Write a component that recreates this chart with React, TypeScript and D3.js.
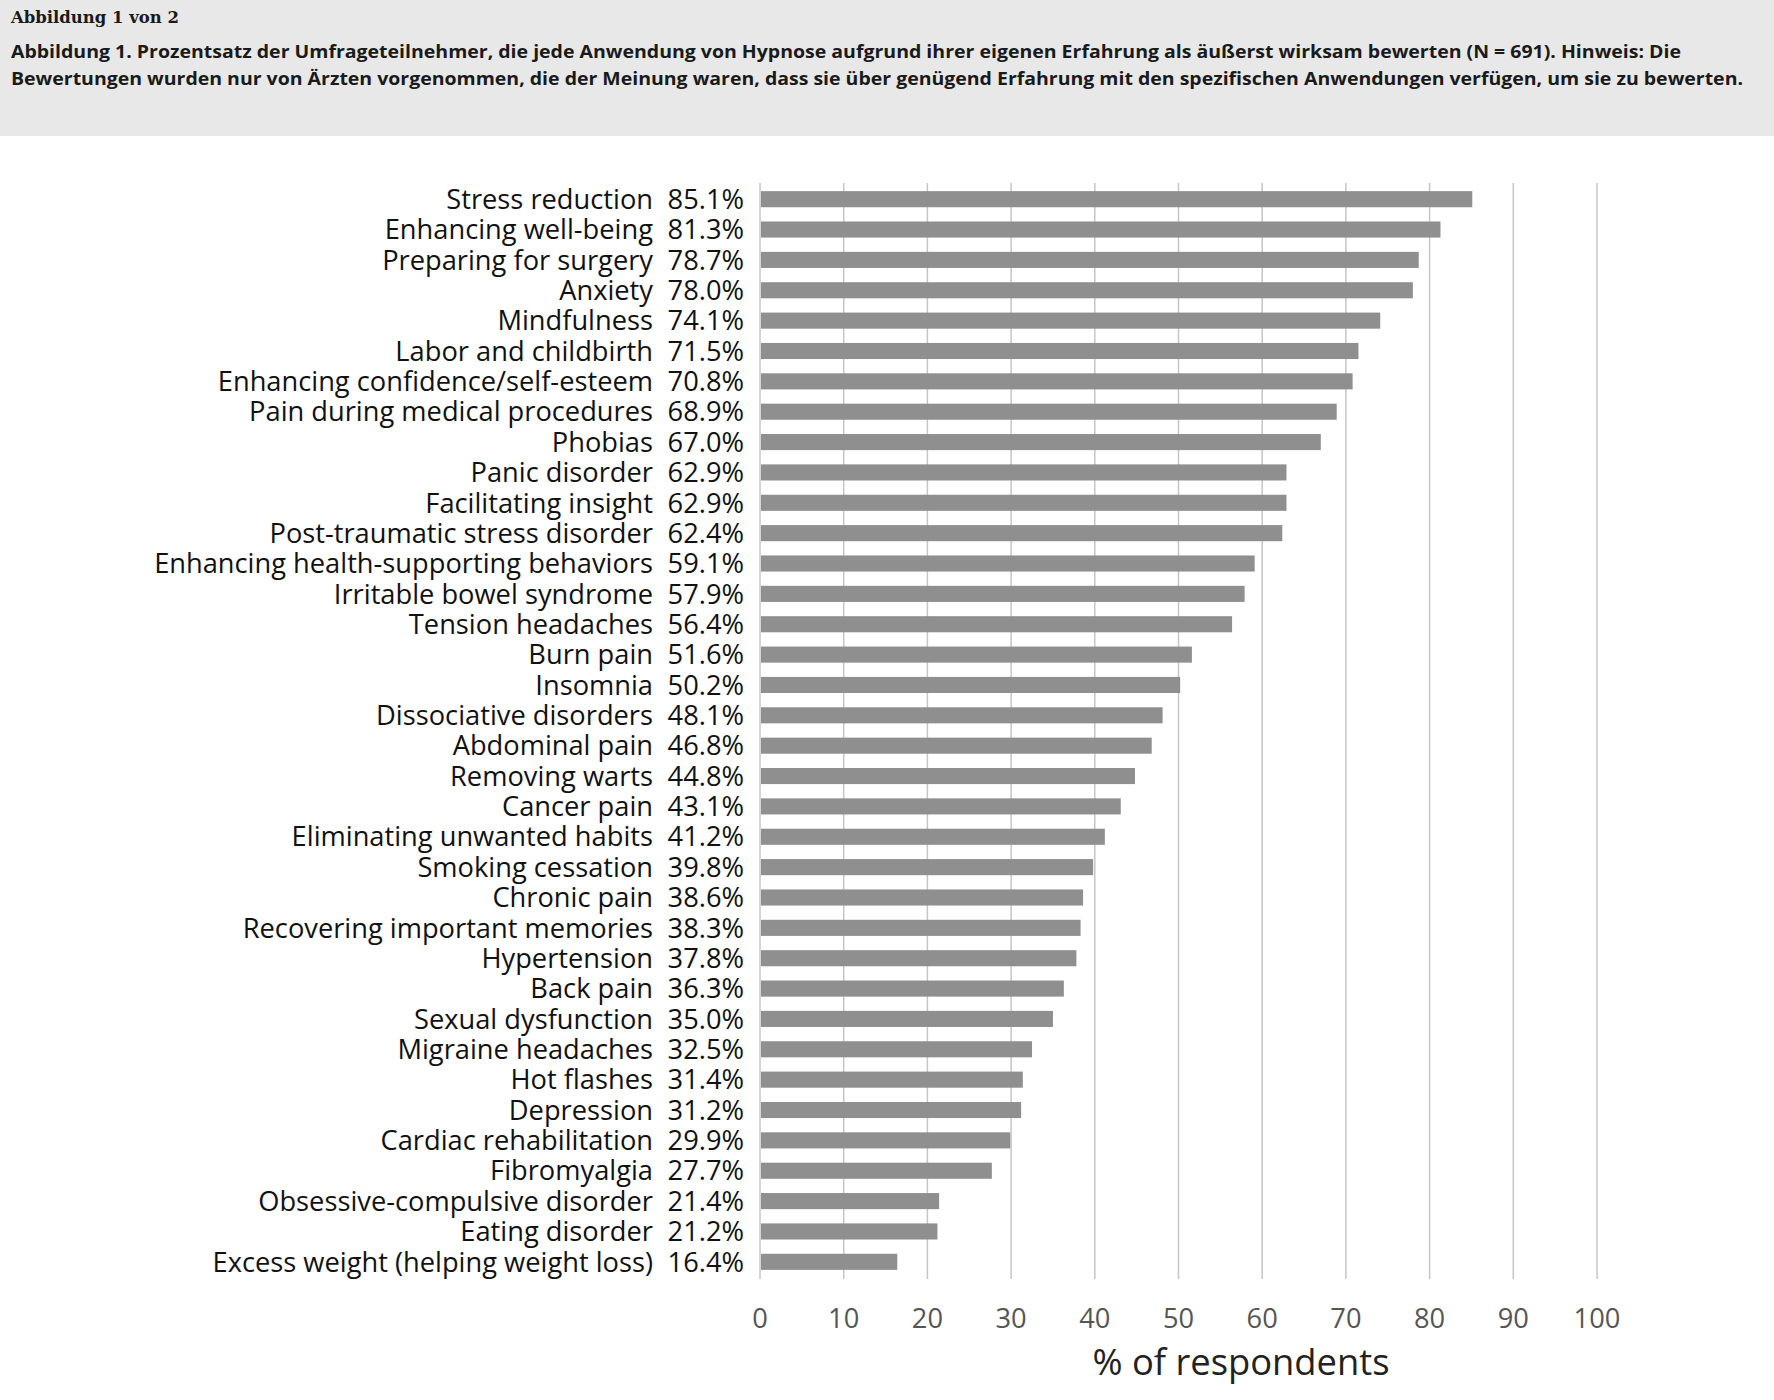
import { useEffect, useRef } from "react";
import * as d3 from "d3";

const categories = [
  "Stress reduction",
  "Enhancing well-being",
  "Preparing for surgery",
  "Anxiety",
  "Mindfulness",
  "Labor and childbirth",
  "Enhancing confidence/self-esteem",
  "Pain during medical procedures",
  "Phobias",
  "Panic disorder",
  "Facilitating insight",
  "Post-traumatic stress disorder",
  "Enhancing health-supporting behaviors",
  "Irritable bowel syndrome",
  "Tension headaches",
  "Burn pain",
  "Insomnia",
  "Dissociative disorders",
  "Abdominal pain",
  "Removing warts",
  "Cancer pain",
  "Eliminating unwanted habits",
  "Smoking cessation",
  "Chronic pain",
  "Recovering important memories",
  "Hypertension",
  "Back pain",
  "Sexual dysfunction",
  "Migraine headaches",
  "Hot flashes",
  "Depression",
  "Cardiac rehabilitation",
  "Fibromyalgia",
  "Obsessive-compulsive disorder",
  "Eating disorder",
  "Excess weight (helping weight loss)",
];

const values = [
  85.1, 81.3, 78.7, 78.0, 74.1, 71.5, 70.8, 68.9, 67.0, 62.9, 62.9, 62.4,
  59.1, 57.9, 56.4, 51.6, 50.2, 48.1, 46.8, 44.8, 43.1, 41.2, 39.8, 38.6,
  38.3, 37.8, 36.3, 35.0, 32.5, 31.4, 31.2, 29.9, 27.7, 21.4, 21.2, 16.4,
];

const xTicks = [0, 10, 20, 30, 40, 50, 60, 70, 80, 90, 100];

const figureLabel = "Abbildung 1 von 2";
const captionLines = [
  "Abbildung 1. Prozentsatz der Umfrageteilnehmer, die jede Anwendung von Hypnose aufgrund ihrer eigenen Erfahrung als äußerst wirksam bewerten (N = 691). Hinweis: Die",
  "Bewertungen wurden nur von Ärzten vorgenommen, die der Meinung waren, dass sie über genügend Erfahrung mit den spezifischen Anwendungen verfügen, um sie zu bewerten.",
];
const xTitle = "% of respondents";

const W = 1774;
const H = 1400;
const FONT = "'Open Sans', sans-serif";

export default function App() {
  const ref = useRef<SVGSVGElement>(null);

  useEffect(() => {
    if (!ref.current) return;
    document.body.style.margin = "0";
    const svg = d3.select(ref.current);
    svg.selectAll("*").remove();

    // header band
    svg.append("rect").attr("width", W).attr("height", 136).attr("fill", "#e8e8e8");
    svg
      .append("text")
      .attr("x", 11)
      .attr("y", 23)
      .attr("font-family", "'DejaVu Serif', serif")
      .attr("font-weight", 700)
      .attr("font-size", 16)
      .attr("fill", "#1a1a1a")
      .attr("textLength", 168)
      .attr("lengthAdjust", "spacingAndGlyphs")
      .text(figureLabel);

    const capWidths = [1670, 1732];
    svg
      .selectAll("text.cap")
      .data(captionLines)
      .enter()
      .append("text")
      .attr("class", "cap")
      .attr("x", 11)
      .attr("y", (_, i) => 57.5 + i * 27)
      .attr("font-family", FONT)
      .attr("font-weight", 700)
      .attr("font-size", 17.5)
      .attr("fill", "#1a1a1a")
      .attr("textLength", (_, i) => capWidths[i])
      .attr("lengthAdjust", "spacingAndGlyphs")
      .text((d) => d);

    const x = d3.scaleLinear().domain([0, 100]).range([760, 1597]);
    const y = d3
      .scaleBand<string>()
      .domain(categories)
      .range([184, 1277])
      .paddingInner(0.47)
      .paddingOuter(0.235);
    const cy = (d: string) => y(d)! + y.bandwidth() / 2;

    const g = svg.append("g");

    // gridlines
    g.selectAll("line.grid")
      .data(xTicks)
      .enter()
      .append("line")
      .attr("class", "grid")
      .attr("x1", (d) => x(d))
      .attr("x2", (d) => x(d))
      .attr("y1", 183)
      .attr("y2", 1279)
      .attr("stroke", "#c6c6c6")
      .attr("stroke-width", 1.5);

    // bars
    g.selectAll("rect.bar")
      .data(values)
      .enter()
      .append("rect")
      .attr("class", "bar")
      .attr("x", x(0) + 1)
      .attr("y", (_, i) => y(categories[i])!)
      .attr("width", (d) => x(d) - x(0) - 1)
      .attr("height", y.bandwidth())
      .attr("fill", "#8f8f8f");

    // category names
    const names = g
      .selectAll("text.name")
      .data(categories)
      .enter()
      .append("text")
      .attr("class", "name")
      .attr("text-anchor", "end")
      .attr("font-family", FONT)
      .attr("font-size", 27)
      .attr("fill", "#111")
      .attr("dy", "0.36em")
      .text((d) => d);

    const maxLen =
      d3.max(names.nodes(), (n) => (n as SVGTextElement).getComputedTextLength()) ?? 499;
    const k = 499 / maxLen;
    names.attr("transform", (d) => `translate(653,${cy(d)}) scale(${k},1)`);

    // percentages
    g.selectAll("text.pct")
      .data(values)
      .enter()
      .append("text")
      .attr("class", "pct")
      .attr("text-anchor", "end")
      .attr("font-family", FONT)
      .attr("font-size", 27)
      .attr("fill", "#111")
      .attr("dy", "0.36em")
      .attr("transform", (_, i) => `translate(744,${cy(categories[i])}) scale(${k},1)`)
      .text((d) => `${d.toFixed(1)}%`);

    // tick labels
    g.selectAll("text.tick")
      .data(xTicks)
      .enter()
      .append("text")
      .attr("class", "tick")
      .attr("text-anchor", "middle")
      .attr("font-family", FONT)
      .attr("font-size", 27)
      .attr("fill", "#555")
      .attr("transform", (d) => `translate(${x(d)},1328) scale(${k},1)`)
      .text((d) => d);

    g.append("text")
      .attr("text-anchor", "middle")
      .attr("font-family", FONT)
      .attr("font-size", 36)
      .attr("fill", "#222")
      .attr("transform", `translate(1241,1375) scale(${k},1)`)
      .text(xTitle);
  }, []);

  return <svg ref={ref} width={W} height={H} style={{ display: "block", background: "#fff" }} />;
}
